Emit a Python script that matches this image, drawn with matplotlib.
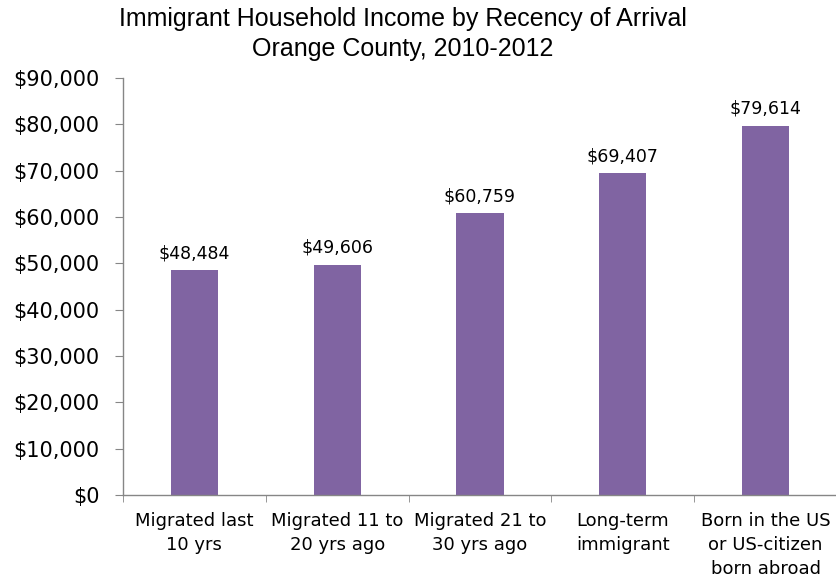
import matplotlib.pyplot as plt
import numpy as np

categories = ["Migrated last\n10 yrs", "Migrated 11 to\n20 yrs ago", "Migrated 21 to\n30 yrs ago",
              "Long-term\nimmigrant", "Born in the US\nor US-citizen\nborn abroad"]
income = [48484, 49606, 60759, 69407, 79614]
y_ticks = np.arange(0, 90001, 10000)

bar_color = '#8064A2'
axis_color = '#868686'

plt.rcParams['font.family'] = ['DejaVu Sans']

fig = plt.figure(figsize=(8.37, 5.82), dpi=100)
ax = fig.add_axes([123 / 837, 1 - 495 / 582, 1 - 123 / 837, (495 - 78) / 582])

x = np.arange(len(categories))
ax.bar(x, income, width=0.33, color=bar_color, zorder=2)

for xi, val in zip(x, income):
    ax.annotate('${:,.0f}'.format(val), (xi, val), xytext=(0, 6), textcoords='offset points',
                ha='center', va='bottom', fontsize=12.5, color='black')

ax.set_xlim(-0.5, len(categories) - 0.5)
ax.set_ylim(0, 90000)
ax.set_yticks(y_ticks)
ax.set_yticklabels(['${:,.0f}'.format(v) for v in y_ticks], fontsize=15)

ax.set_xticks(x)
ax.set_xticklabels(categories, fontsize=13, linespacing=1.45)
ax.tick_params(axis='x', length=0, pad=12)
ax.set_xticks(np.arange(-0.5, len(categories)), minor=True)
ax.tick_params(axis='x', which='minor', length=5, color=axis_color, direction='out')
ax.tick_params(axis='y', length=6, color=axis_color, direction='out', pad=11)

for side in ['top', 'right']:
    ax.spines[side].set_visible(False)
for side in ['left', 'bottom']:
    ax.spines[side].set_color(axis_color)
    ax.spines[side].set_linewidth(1)

fig.text(403 / 837, 1 - 19 / 582, 'Immigrant Household Income by Recency of Arrival',
         ha='center', va='center', fontsize=18, family='Liberation Sans')
fig.text(403 / 837, 1 - 49 / 582, 'Orange County, 2010-2012',
         ha='center', va='center', fontsize=18, family='Liberation Sans')

plt.savefig('out.png', dpi=100)
plt.close()
